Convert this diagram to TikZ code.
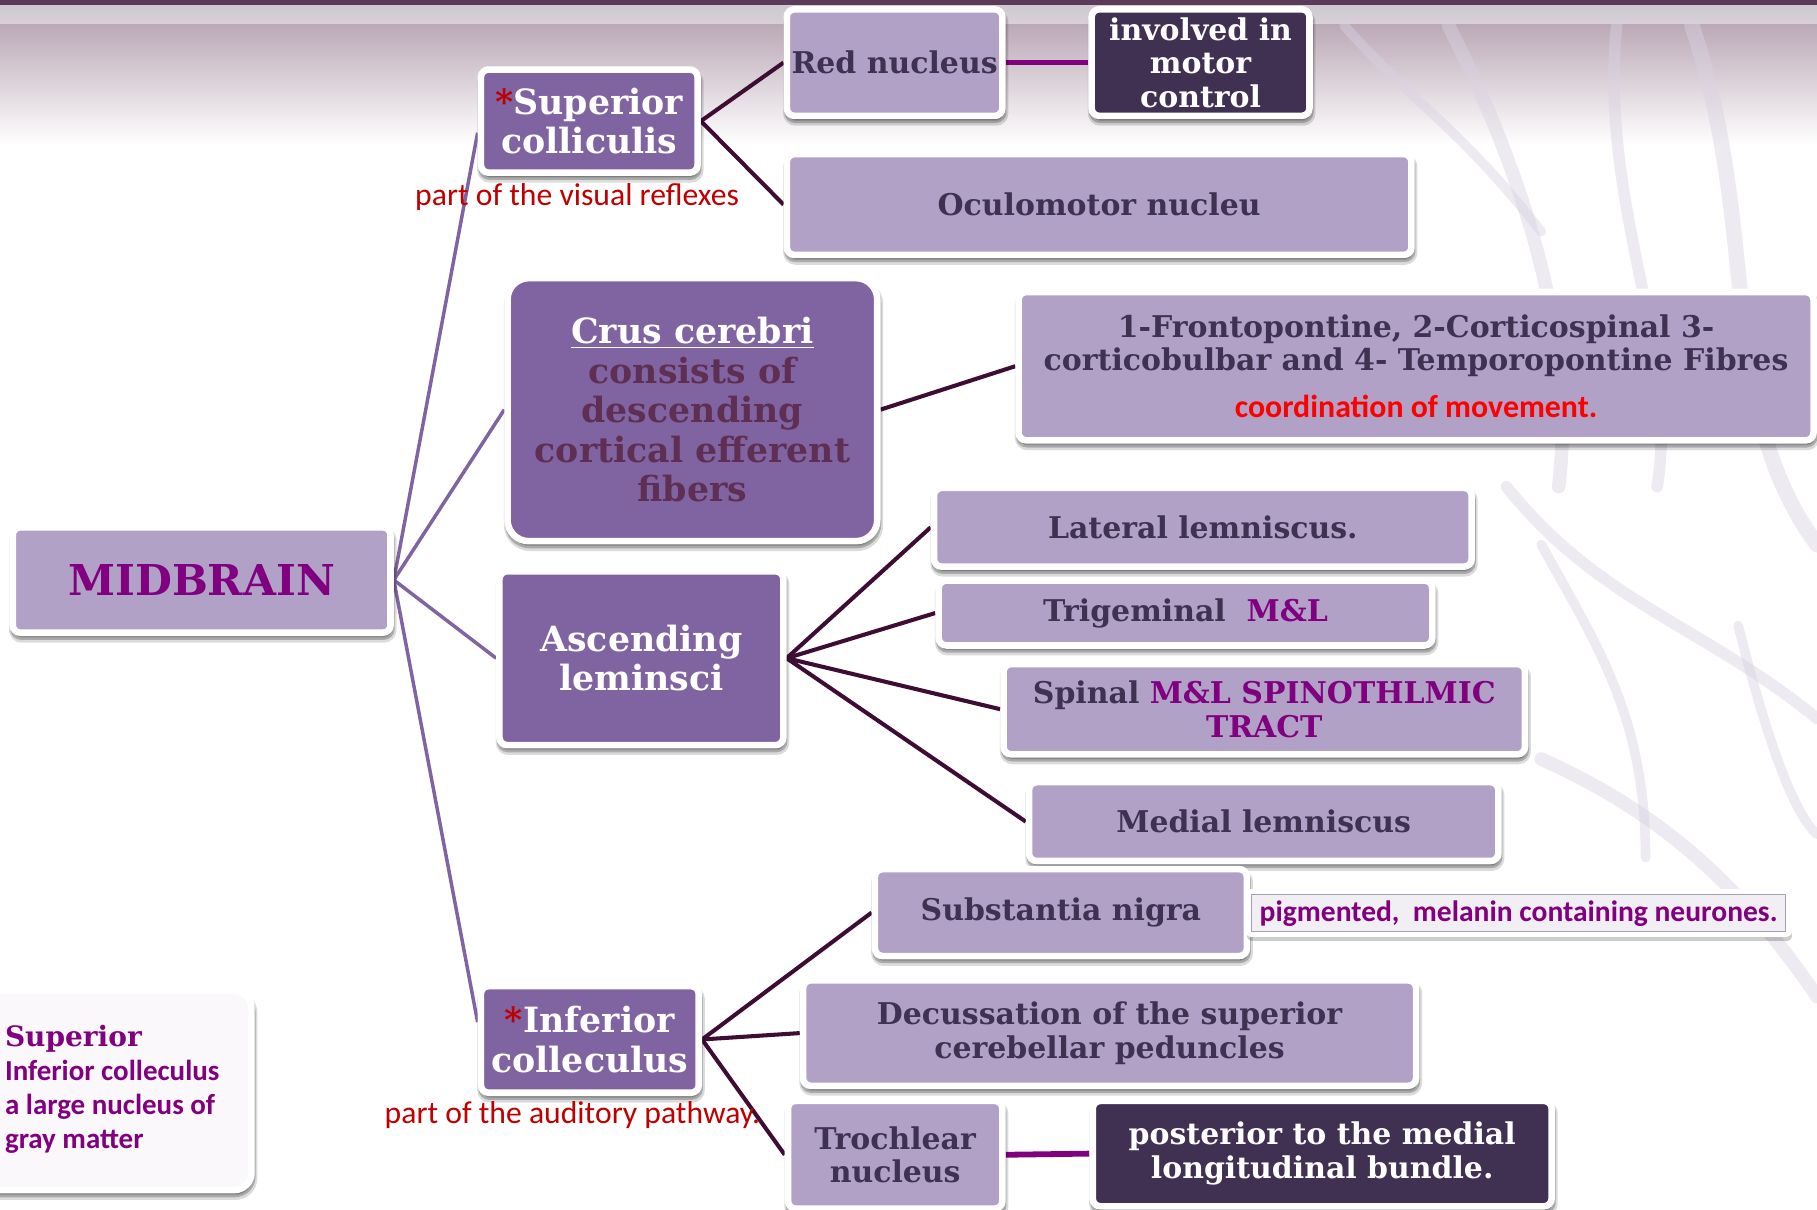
\documentclass[tikz,border=0pt]{standalone}
\usepackage{fontspec}
\setmainfont{DejaVu Serif}
\newfontfamily\calib{Carlito}
\usetikzlibrary{calc,shadows}
\definecolor{medp}{HTML}{8064A2}
\definecolor{lightp}{HTML}{B2A1C7}
\definecolor{darkp}{HTML}{403152}
\definecolor{dtext}{HTML}{3F3151}
\definecolor{conn}{HTML}{3E0D33}
\definecolor{purp}{HTML}{800080}
\definecolor{crusc}{HTML}{5E2F52}
\definecolor{notered}{HTML}{C00000}
\definecolor{brightred}{HTML}{FF0000}
\definecolor{astred}{HTML}{C00000}
\definecolor{pigfill}{HTML}{F1EEF4}
\definecolor{piggray}{HTML}{A89FB0}
\definecolor{topband}{HTML}{5C3B5A}
\definecolor{topgrad}{HTML}{BBA8B6}
\definecolor{glossa}{HTML}{CFC8CF}
\definecolor{glossb}{HTML}{D9D0D7}
\definecolor{nerve}{HTML}{D9D2E2}
\definecolor{leftfill}{HTML}{FAF8FB}
\pgfdeclarelayer{bg}
\pgfdeclarelayer{edges}
\pgfsetlayers{bg,edges,main}
\begin{document}
\begin{tikzpicture}[x=0.6pt,y=-0.6pt,
  softshadow/.style={
     drop shadow={shadow xshift=0.6pt, shadow yshift=-2.6pt, opacity=0.14, fill=black, draw=black, line width=5pt},
     drop shadow={shadow xshift=0.4pt, shadow yshift=-2pt, opacity=0.22, fill=black, draw=black, line width=3.4pt}},
  box/.style={rounded corners=4pt, draw=white, line width=3.4pt, inner sep=0pt, align=center, softshadow},
  lightbox/.style={box, fill=lightp, text=dtext, font=\bfseries\fontsize{15.5}{17.4}\selectfont},
  medbox/.style={box, fill=medp, text=white, font=\bfseries\fontsize{18}{20.4}\selectfont},
  darkbox/.style={box, fill=darkp, text=white, font=\bfseries\fontsize{15.5}{17.4}\selectfont},
  midline/.style={draw=medp, line width=1.8pt},
  darkline/.style={draw=conn, line width=2.1pt},
  purpline/.style={draw=purp, line width=3pt},
  note/.style={font=\calib\fontsize{16.4}{18}\selectfont, text=notered, inner sep=0pt},
  nervestyle/.style={draw=nerve, line cap=round, opacity=0.45},
]
\useasboundingbox (0,0) rectangle (1568,1044);
\begin{pgfonlayer}{bg}
\fill[white] (0,0) rectangle (1568,1044);
\shade[top color=topgrad, bottom color=white] (0,20) rectangle (1568,125);
\begin{scope}
\clip (0,0) rectangle (1568,1044);
\draw[nervestyle, line width=7pt] (1250,22) .. controls (1320,160) and (1360,300) .. (1345,420);
\draw[nervestyle, line width=6pt] (1395,22) .. controls (1380,180) and (1450,300) .. (1430,420);
\draw[nervestyle, line width=8pt] (1460,22) .. controls (1520,200) and (1480,350) .. (1568,470);
\draw[nervestyle, line width=5pt] (1160,22) .. controls (1220,90) and (1260,110) .. (1330,200);
\draw[nervestyle, line width=6pt] (1300,420) .. controls (1380,520) and (1470,540) .. (1568,620);
\draw[nervestyle, line width=7pt] (1330,655) .. controls (1430,700) and (1500,760) .. (1568,860);
\draw[nervestyle, line width=5pt] (1330,470) .. controls (1380,560) and (1420,620) .. (1420,740);
\draw[nervestyle, line width=5pt] (1500,540) .. controls (1520,620) and (1545,700) .. (1568,720);
\end{scope}
\shade[top color=glossa, middle color=white, bottom color=glossb] (0,4) rectangle (1568,20);
\fill[topband] (0,0) rectangle (1568,4);
\end{pgfonlayer}

% nodes
\node[lightbox, minimum width=195.6pt, minimum height=54.6pt, text=purp, font=\bfseries\fontsize{22}{24}\selectfont] (mid) at (174,500.5) {MIDBRAIN};
\node[medbox, minimum width=112.2pt, minimum height=53.4pt] (sup) at (508.5,104.5) {\textcolor{astred}{*}Superior\\colliculis};
\node[lightbox, minimum width=111.6pt, minimum height=55.2pt] (red) at (772,54) {Red nucleus};
\node[darkbox, minimum width=112.8pt, minimum height=55.2pt] (inv) at (1036,54) {involved in\\motor\\control};
\node[lightbox, minimum width=323.4pt, minimum height=52.2pt] (ocu) at (948.5,176.5) {Oculomotor nucleu};
\node[medbox, rounded corners=11pt, minimum width=191.4pt, minimum height=136.2pt] (crus) at (597.5,353.5) {\underline{Crus cerebri}\\\textcolor{crusc}{consists of}\\\textcolor{crusc}{descending}\\\textcolor{crusc}{cortical efferent}\\\textcolor{crusc}{fibers}};
\node[lightbox, minimum width=411.6pt, minimum height=76.8pt] (fib) at (1222,316) {1-Frontopontine, 2-Corticospinal 3-\\corticobulbar and 4- Temporopontine Fibres\\[7pt]{\calib\fontsize{16.5}{18}\selectfont\textcolor{brightred}{coordination of movement.}}};
\node[medbox, minimum width=147pt, minimum height=90pt] (asc) at (553.5,568) {Ascending\\leminsci};
\node[lightbox, minimum width=278.4pt, minimum height=40.8pt] (lat) at (1038,455) {Lateral lemniscus.};
\node[lightbox, minimum width=255.6pt, minimum height=33.6pt] (tri) at (1023,529) {Trigeminal\ \ \textcolor{purp}{M\&L}};
\node[lightbox, minimum width=270pt, minimum height=46.8pt] (spi) at (1091,612) {Spinal \textcolor{purp}{M\&L SPINOTHLMIC}\\\textcolor{purp}{TRACT}};
\node[lightbox, minimum width=243pt, minimum height=40.8pt] (med) at (1090.5,709) {Medial lemniscus};
\node[lightbox, minimum width=192.6pt, minimum height=45pt] (sub) at (915.5,787.5) {Substantia nigra};
\node[minimum width=276.6pt, minimum height=19.2pt, inner sep=0pt, fill=pigfill, draw=piggray, line width=0.6pt,
      drop shadow={shadow xshift=0.4pt, shadow yshift=-2pt, opacity=0.2, fill=black, draw=black, line width=6pt, line join=round},
      preaction={draw=white, line width=6pt, line join=round},
      font=\calib\bfseries\fontsize{15.3}{17}\selectfont, text=purp] (pig) at (1310.5,788) {pigmented,\ \ melanin containing neurones.};
\node[medbox, minimum width=112.8pt, minimum height=55.2pt] (inf) at (509,897) {\textcolor{astred}{*}Inferior\\colleculus};
\node[lightbox, minimum width=317.4pt, minimum height=54.6pt] (dec) at (957.5,891.5) {Decussation of the superior\\cerebellar peduncles};
\node[lightbox, minimum width=111pt, minimum height=55.8pt] (tro) at (772.5,996.5) {Trochlear\\nucleus};
\node[darkbox, minimum width=237.6pt, minimum height=54.6pt] (pos) at (1141,995.5) {posterior to the medial\\longitudinal bundle.};
\node[box, fill=leftfill, rounded corners=9pt, minimum width=154.2pt, minimum height=103.2pt] (leftbox) at (88.5,941) {};
\node[anchor=west, align=left, inner sep=0pt, text=purp, font=\calib\bfseries\fontsize{15}{17.6}\selectfont] (lefttxt) at (4,940)
  {{\rmfamily\bfseries\fontsize{14.5}{17.6}\selectfont Superior}\\Inferior colleculus\\a large nucleus of\\gray matter};

\node[note] (vislab) at (498,170) {part of the visual reflexes};
\node[note] (audlab) at (494,962) {part of the auditory pathway.};

\begin{pgfonlayer}{edges}
\draw[midline] (mid.east) -- ($(sup.west)+(0,10)$);
\draw[midline] (mid.east) -- (crus.west);
\draw[midline] (mid.east) -- (asc.west);
\draw[midline] (mid.east) -- ($(inf.west)+(0,-15)$);
\draw[darkline] (sup.east) -- (red.west);
\draw[darkline] (sup.east) -- (ocu.west);
\draw[darkline] (crus.east) -- (fib.west);
\draw[darkline] (asc.east) -- (lat.west);
\draw[darkline] (asc.east) -- (tri.west);
\draw[darkline] (asc.east) -- (spi.west);
\draw[darkline] (asc.east) -- (med.west);
\draw[darkline] (inf.east) -- (sub.west);
\draw[darkline] (inf.east) -- (dec.west);
\draw[darkline] (inf.east) -- (tro.west);
\draw[purpline] (red.east) -- (inv.west);
\draw[purpline] (tro.east) -- (pos.west);
\end{pgfonlayer}
\end{tikzpicture}
\end{document}
